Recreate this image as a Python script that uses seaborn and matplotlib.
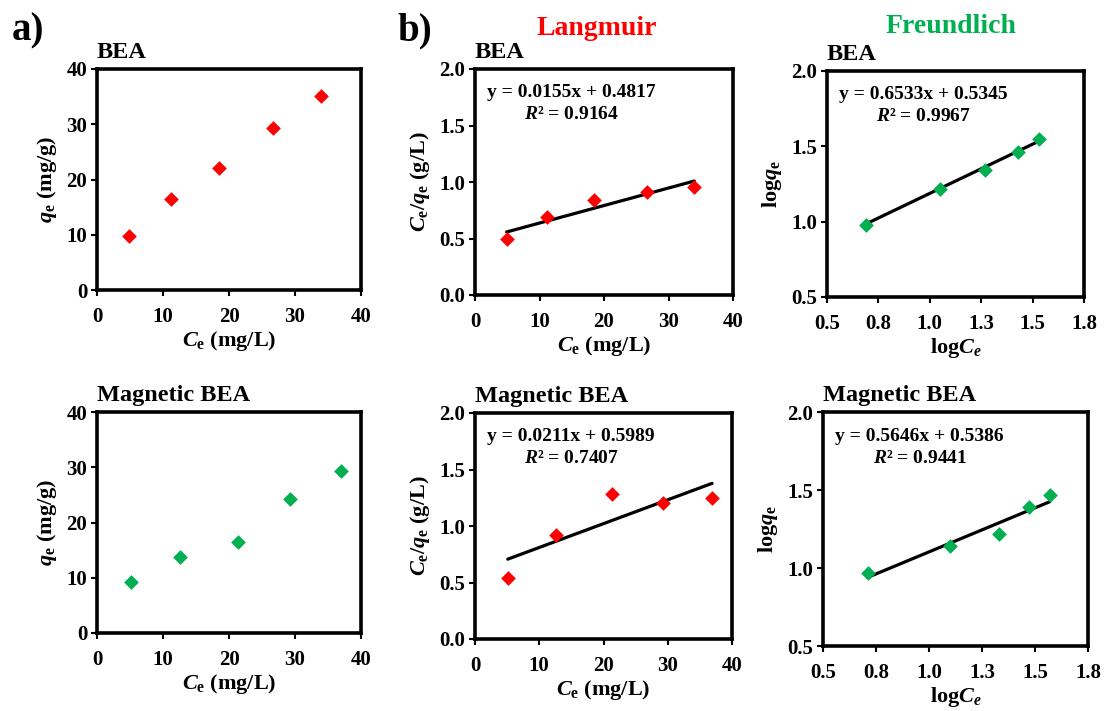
import numpy as np
import pandas as pd
import matplotlib
matplotlib.use("Agg")
import matplotlib.pyplot as plt
import seaborn as sns

# --- data ---
ce_bea = [4.9, 11.2, 18.5, 26.7, 34.0]
qe_bea = [9.8, 16.4, 22.0, 29.4, 35.2]
ce_mag = [5.1, 12.6, 21.3, 29.3, 36.9]
qe_mag = [9.2, 13.7, 16.5, 24.3, 29.4]

langmuir_bea = [0.50, 0.69, 0.84, 0.91, 0.96]
langmuir_mag = [0.54, 0.92, 1.28, 1.20, 1.25]

logce_bea = [0.69, 1.05, 1.27, 1.43, 1.53]
logqe_bea = [0.98, 1.22, 1.34, 1.46, 1.55]
logce_mag = [0.71, 1.10, 1.33, 1.47, 1.57]
logqe_mag = [0.97, 1.14, 1.22, 1.39, 1.47]

# fit coefficients (slope, intercept, R2) as printed on the chart
fit_lang_bea = (0.0155, 0.4817, 0.9164)
fit_lang_mag = (0.0211, 0.5989, 0.7407)
fit_freu_bea = (0.6533, 0.5345, 0.9967)
fit_freu_mag = (0.5646, 0.5386, 0.9441)

ce_ticks = [0, 10, 20, 30, 40]
qe_ticks = [0, 10, 20, 30, 40]
lang_ticks = [0.0, 0.5, 1.0, 1.5, 2.0]
freu_xticks = [0.5, 0.75, 1.0, 1.25, 1.5, 1.75]
freu_xlabels = ['0.5', '0.8', '1.0', '1.3', '1.5', '1.8']
freu_yticks = [0.5, 1.0, 1.5, 2.0]

RED = '#FF0000'
GREEN = '#00B050'

# --- style ---
sns.set_style("white")
plt.rcParams['font.family'] = ['Liberation Serif', 'DejaVu Serif']
plt.rcParams['font.weight'] = 'bold'
plt.rcParams['axes.labelweight'] = 'bold'
plt.rcParams['text.color'] = 'black'
plt.rcParams['axes.labelcolor'] = 'black'
plt.rcParams['xtick.color'] = 'black'
plt.rcParams['ytick.color'] = 'black'
plt.rcParams['mathtext.fontset'] = 'custom'
plt.rcParams['mathtext.rm'] = 'Liberation Serif:bold'
plt.rcParams['mathtext.bf'] = 'Liberation Serif:bold'
plt.rcParams['mathtext.it'] = 'Liberation Serif:italic:bold'

W, H = 1104, 711
fig = plt.figure(figsize=(W / 100, H / 100), dpi=100)


def px_axes(l, t, r, b):
    return fig.add_axes([l / W, 1 - b / H, (r - l) / W, (b - t) / H])


def style_axes(ax):
    for sp in ax.spines.values():
        sp.set_visible(True)
        sp.set_color('black')
        sp.set_linewidth(2.6)
    ax.tick_params(axis='both', which='major', direction='out', length=4,
                   width=1.5, color='black', labelcolor='black', labelsize=15,
                   bottom=True, left=True, top=False, right=False)
    ax.tick_params(axis='x', pad=8)
    ax.tick_params(axis='y', pad=3)
    for lab in ax.get_xticklabels() + ax.get_yticklabels():
        lab.set_fontweight('bold')
    ax.xaxis.labelpad = 2
    ax.yaxis.labelpad = 5


def add_title(ax, text):
    ax.text(0.0, 1.025, text, transform=ax.transAxes, ha='left', va='bottom',
            fontsize=17.5, fontweight='bold', color='black')


def add_fit(ax, x, fit):
    slope, icpt, r2 = fit
    xs = np.array([min(x), max(x)])
    line_df = pd.DataFrame({'x': xs, 'y': slope * xs + icpt})
    sns.lineplot(data=line_df, x='x', y='y', ax=ax, color='black',
                 linewidth=2.3, zorder=3)
    ax.text(0.045, 0.875, f'y = {slope:.4f}x + {icpt:.4f}', transform=ax.transAxes,
            ha='left', va='baseline', fontsize=14, fontweight='bold')
    ax.text(0.19, 0.78, r'$R$' + f'² = {r2:.4f}', transform=ax.transAxes,
            ha='left', va='baseline', fontsize=14, fontweight='bold')


def scatter(ax, x, y, color):
    df = pd.DataFrame({'x': x, 'y': y})
    sns.scatterplot(data=df, x='x', y='y', ax=ax, marker='D', s=56,
                    color=color, linewidth=0, zorder=4)


panels = [
    # (rect px, x, y, color, fit, kind, title)
    ((97, 69, 361, 290), ce_bea, qe_bea, RED, None, 'iso', 'BEA'),
    ((475, 69, 733, 295), ce_bea, langmuir_bea, RED, fit_lang_bea, 'lang', 'BEA'),
    ((827, 71, 1084, 297), logce_bea, logqe_bea, GREEN, fit_freu_bea, 'freu', 'BEA'),
    ((97, 412, 361, 633), ce_mag, qe_mag, GREEN, None, 'iso', 'Magnetic BEA'),
    ((475, 413, 732, 639), ce_mag, langmuir_mag, RED, fit_lang_mag, 'lang', 'Magnetic BEA'),
    ((823, 412, 1088, 646), logce_mag, logqe_mag, GREEN, fit_freu_mag, 'freu', 'Magnetic BEA'),
]

for rect, x, y, color, fit, kind, title in panels:
    ax = px_axes(*rect)
    if fit is not None:
        add_fit(ax, x, fit)
    scatter(ax, x, y, color)
    if kind == 'iso':
        ax.set_xlim(0, 40)
        ax.set_ylim(0, 40)
        ax.set_xticks(ce_ticks)
        ax.set_yticks(qe_ticks)
        ax.set_xlabel(r'$C_\mathrm{e}$ (mg/L)', fontsize=16)
        ax.set_ylabel(r'$q_\mathrm{e}$ (mg/g)', fontsize=16)
    elif kind == 'lang':
        ax.set_xlim(0, 40)
        ax.set_ylim(0, 2.0)
        ax.set_xticks(ce_ticks)
        ax.set_yticks(lang_ticks)
        ax.set_yticklabels([f'{v:.1f}' for v in lang_ticks])
        ax.set_xlabel(r'$C_\mathrm{e}$ (mg/L)', fontsize=16)
        ax.set_ylabel(r'$C_\mathrm{e}/q_\mathrm{e}$ (g/L)', fontsize=16)
    else:
        ax.set_xlim(0.5, 1.75)
        ax.set_ylim(0.5, 2.0)
        ax.set_xticks(freu_xticks)
        ax.set_xticklabels(freu_xlabels)
        ax.set_yticks(freu_yticks)
        ax.set_yticklabels([f'{v:.1f}' for v in freu_yticks])
        ax.set_xlabel(r'log$C_e$', fontsize=16)
        ax.set_ylabel(r'log$q_\mathrm{e}$', fontsize=16)
    style_axes(ax)
    add_title(ax, title)

fig.text(12 / W, 1 - 40 / H, 'a)', fontsize=28, fontweight='bold', va='baseline')
fig.text(397 / W, 1 - 40 / H, 'b)', fontsize=28, fontweight='bold', va='baseline')
fig.text(597 / W, 1 - 35 / H, 'Langmuir', fontsize=20, fontweight='bold',
         color=RED, ha='center', va='baseline')
fig.text(951 / W, 1 - 33 / H, 'Freundlich', fontsize=20, fontweight='bold',
         color=GREEN, ha='center', va='baseline')

fig.savefig('out.png', dpi=100)
plt.close(fig)
